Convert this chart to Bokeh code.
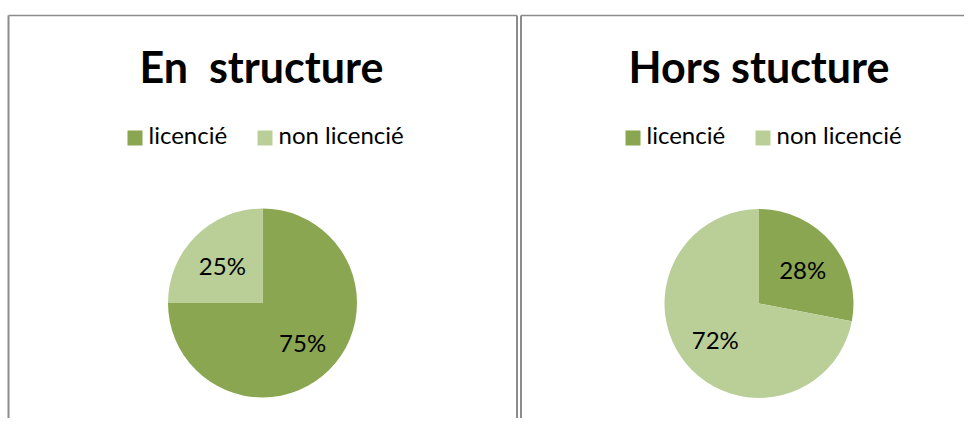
import math
from bokeh.plotting import figure
from bokeh.models import Range1d, ColumnDataSource
from bokeh.core.properties import value
from bokeh.embed import file_html
from bokeh.resources import INLINE

# ---- data ----
categories = ["licencié", "non licencié"]
en_structure = [75, 25]
hors_structure = [28, 72]
titles = ["En  structure", "Hors stucture"]
colors = ["#8AA650", "#B9CF97"]

FONT = "Lato"
W, H = 964, 418
# data coords: x = screen x, y = 434 - screen y
p = figure(width=W, height=H, output_backend="svg", toolbar_location=None,
           x_range=Range1d(0, W), y_range=Range1d(434 - H, 434), min_border=0)
p.axis.visible = False
p.xgrid.visible = False
p.ygrid.visible = False
p.outline_line_color = None
p.background_fill_color = "white"
p.border_fill_color = "white"

def Y(sy):
    return 434 - sy

border = "#8C8C8C"
# panel frames
p.line([8, 8], [Y(434), Y(15)], line_color=border, line_width=2)
p.line([8, 516.5], [Y(15), Y(15)], line_color=border, line_width=1.5)
p.line([516.5, 516.5], [Y(434), Y(15)], line_color=border, line_width=2)
p.line([520.5, 520.5], [Y(434), Y(15)], line_color=border, line_width=2)
p.line([520.5, 980], [Y(15), Y(15)], line_color=border, line_width=1.5)

panels = [
    dict(values=en_structure, title=titles[0], cx=262, cy=302.5, r=94.5, tx=261, lx=127),
    dict(values=hors_structure, title=titles[1], cx=758.5, cy=303, r=94.5, tx=758.5, lx=625),
]

for pn in panels:
    vals = pn["values"]
    total = float(sum(vals))
    cum = 0.0
    starts, ends, lxs, lys, labels = [], [], [], [], []
    for v in vals:
        a0 = math.pi / 2 - 2 * math.pi * cum / total
        cum += v
        a1 = math.pi / 2 - 2 * math.pi * cum / total
        starts.append(a0)
        ends.append(a1)
        mid = (a0 + a1) / 2
        lxs.append(pn["cx"] + 0.6 * pn["r"] * math.cos(mid))
        lys.append(Y(pn["cy"]) + 0.58 * pn["r"] * math.sin(mid) - 1)
        labels.append(f"{round(100 * v / total)}%")
    src = ColumnDataSource(dict(start=starts, end=ends, color=colors,
                                lx=lxs, ly=lys, label=labels))
    p.wedge(x=pn["cx"], y=Y(pn["cy"]), radius=pn["r"], start_angle="start",
            end_angle="end", direction="clock", fill_color="color",
            line_color=None, source=src)
    p.text(x="lx", y="ly", text="label", source=src, text_align="center",
           text_baseline="middle", text_font=value(FONT), text_font_size="24px",
           text_color="black")
    # title (keep the double space visible)
    p.text(x=[pn["tx"]], y=[Y(66)], text=[pn["title"].replace("  ", "\u00a0 ")],
           text_align="center", text_baseline="alphabetic", text_font=value(FONT),
           text_font_style="bold", text_font_size="43px", text_color="black")
    # legend
    sq_x = [pn["lx"] + 7.5, pn["lx"] + 137.5]
    p.rect(x=sq_x, y=[Y(137.5)] * 2, width=15, height=15, fill_color=colors,
           line_color=None)
    p.text(x=[s + 13.5 for s in sq_x], y=[Y(134)] * 2, text=categories,
           text_align="left", text_baseline="alphabetic", text_font=value(FONT),
           text_font_size="24px", text_color="black")

open("out.html", "w").write(file_html(p, INLINE))
